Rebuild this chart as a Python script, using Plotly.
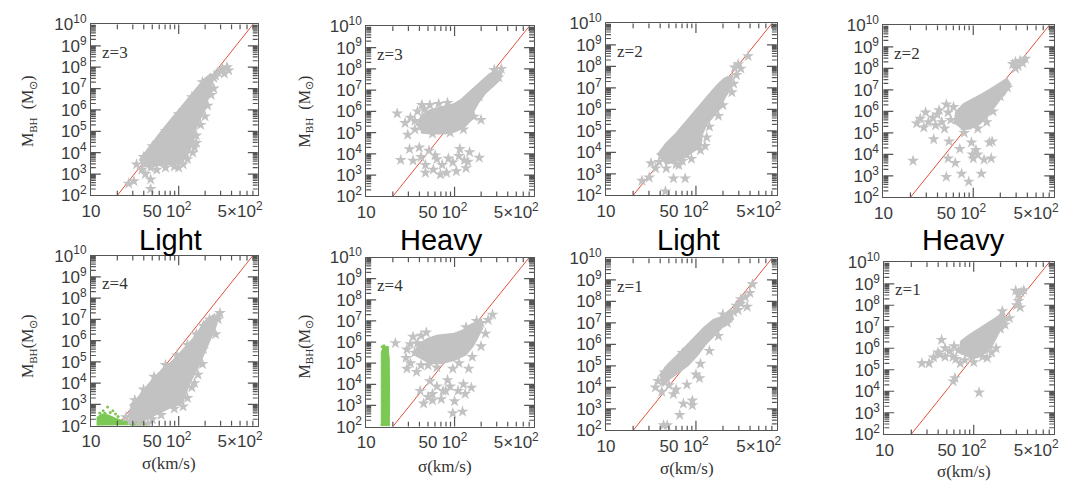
import numpy as np
import plotly.graph_objects as go

# ---------------- axes / ticks ----------------
SIGMA_RANGE_LOG = [1.0, 2.9]
MBH_RANGE_LOG = [2.0, 10.0]
x_tick_vals = [10, 50, 100, 500]
x_tick_text = ["10", "50", "10<sup>2</sup>", "5×10<sup>2</sup>"]
y_tick_vals = [10.0 ** k for k in range(2, 11)]
y_tick_text = ["10<sup>%d</sup>" % k for k in range(2, 11)]

# M-sigma relation (red line), read at the frame edges
relation_sigma = [20.0, 700.0]
relation_mbh = [1e2, 1e10]

panel_redshift = ["z=3", "z=3", "z=2", "z=2", "z=4", "z=4", "z=1", "z=1"]
column_seed = ["Light", "Heavy", "Light", "Heavy"]

# ---------------- data (log10 sigma, log10 M_BH) ----------------
p1_core = [(1.56,3.6),(1.63,4.0),(1.72,4.45),(1.80,4.9),(1.88,5.3),(1.95,5.65),(2.03,6.05),(2.10,6.4),
           (2.17,6.75),(2.24,7.1),(2.30,7.4),(2.36,7.6),(2.38,7.45),(2.36,7.1),(2.32,6.6),(2.28,6.0),
           (2.22,5.5),(2.17,5.0),(2.15,4.6),(2.12,4.2),(2.07,3.8),(2.0,3.55),(1.9,3.5),(1.78,3.45),(1.65,3.4),(1.58,3.4)]
p2_core = [(1.58,5.3),(1.64,5.8),(1.72,6.0),(1.8,6.1),(1.9,6.2),(2.0,6.3),(2.08,6.5),(2.16,6.8),(2.24,7.1),(2.32,7.4),
           (2.4,7.7),(2.48,7.85),(2.52,7.8),(2.50,7.5),(2.42,7.2),(2.34,6.9),(2.26,6.45),(2.2,6.0),(2.17,5.6),
           (2.1,5.3),(2.0,5.1),(1.88,5.0),(1.72,5.0),(1.62,5.05)]
p3_core = [(1.58,3.85),(1.68,4.4),(1.79,4.85),(1.90,5.4),(1.97,5.8),(2.08,6.3),(2.19,6.83),(2.27,7.2),(2.33,7.42),
           (2.39,7.5),(2.37,7.0),(2.30,6.5),(2.26,6.09),(2.18,5.7),(2.11,5.35),(2.06,4.9),(2.04,4.31),(1.95,4.05),
           (1.85,3.8),(1.75,3.6),(1.65,3.5)]
p4_core = [(1.80,5.4),(1.82,5.95),(1.9,6.3),(2.0,6.5),(2.1,6.75),(2.2,7.0),(2.3,7.25),(2.37,7.45),(2.40,7.25),
           (2.35,6.9),(2.28,6.55),(2.22,6.2),(2.14,5.75),(2.06,5.45),(1.96,5.25),(1.86,5.2)]
p5_core = [(1.45,2.9),(1.55,3.3),(1.64,3.78),(1.75,4.3),(1.85,4.7),(1.94,5.0),(2.05,5.5),(2.17,6.03),(2.25,6.5),
           (2.32,6.93),(2.40,7.15),(2.42,6.8),(2.38,6.4),(2.32,5.8),(2.25,5.2),(2.2,4.7),(2.12,4.1),(2.08,3.7),
           (2.03,3.1),(1.9,2.9),(1.75,2.6),(1.6,2.3),(1.5,2.25),(1.42,2.5)]
p6_core = [(1.55,5.35),(1.6,5.85),(1.7,6.1),(1.8,6.25),(1.9,6.3),(2.0,6.35),(2.1,6.5),(2.18,6.75),
           (2.27,6.95),(2.3,6.65),(2.25,6.25),(2.2,5.85),(2.12,5.45),(2.0,5.2),(1.85,5.05),(1.68,5.05)]
p7_core = [(1.60,4.5),(1.7,5.05),(1.8,5.45),(1.9,5.9),(2.0,6.35),(2.1,6.75),(2.2,7.1),(2.3,7.25),(2.38,7.55),
           (2.40,7.2),(2.3,6.9),(2.2,6.45),(2.1,6.05),(2.0,5.5),(1.9,5.05),(1.8,4.75),(1.7,4.45),(1.62,4.1)]
p8_core = [(1.85,5.75),(1.87,6.3),(1.95,6.55),(2.05,6.8),(2.15,7.05),(2.25,7.35),(2.32,7.55),(2.35,7.35),
           (2.3,7.0),(2.25,6.6),(2.2,6.2),(2.15,5.9),(2.05,5.65),(1.95,5.55)]

p1_stars = [(2.45,7.75),(2.5,7.9),(2.55,8.0),(2.57,7.85),(2.52,7.7),(2.48,7.85),(2.42,7.6),(2.4,7.5),
            (1.52,3.45),(1.58,3.2),(1.68,3.3),(1.75,3.2),(1.85,3.3),(1.95,3.35),(2.0,3.3),(2.05,3.45),
            (2.1,3.7),(2.16,4.0),(2.18,4.25),(2.2,4.45),(2.2,4.8),(2.25,5.3),(2.3,5.7),(2.33,6.2),(2.37,6.7),
            (2.4,7.0),(1.68,2.75),(1.68,2.3),(1.49,2.67),(1.43,2.55),(1.62,3.0),(2.14,4.5),(1.6,3.8),(1.7,4.3),
            (1.85,5.0),(2.0,5.8),(2.15,6.6),(2.27,7.3),(1.9,3.6),(2.08,3.95)]
p2_stars = [(1.35,5.9),(1.44,5.45),(1.47,4.9),(1.5,5.7),(1.55,5.55),(1.58,6.0),(1.62,5.3),(1.66,6.1),(1.7,5.2),
            (1.75,4.95),(1.63,6.3),(1.72,6.3),(1.82,6.35),(1.92,6.4),(1.55,5.15),(2.3,5.6),(2.22,5.75),
            (2.1,5.15),(1.95,5.0),(2.45,7.95),(2.53,8.0),(2.5,7.6),(2.4,7.35),(2.28,6.7),
            (1.49,4.22),(1.6,4.3),(1.71,4.15),(1.53,3.68),(1.67,3.48),(1.78,3.93),(1.86,3.48),(1.93,3.78),
            (2.06,4.23),(2.11,3.7),(2.17,4.08),(2.13,3.33),(2.02,3.18),(1.91,3.11),(1.84,3.03),(1.76,3.26),
            (1.67,3.11),(1.39,3.71),(2.28,3.82),(2.15,3.63),(1.98,3.6),(1.8,3.75),(1.62,3.85),(2.05,3.9)]
p3_stars = [(1.67,3.26),(1.81,3.41),(1.59,3.56),(1.55,3.26),(1.40,2.68),(1.48,2.83),(1.75,2.79),(1.88,2.79),
            (1.66,2.19),(1.62,3.86),(2.1,4.3),(2.05,4.1),(1.95,3.7),(2.15,5.2),(2.25,5.7),(2.3,6.2),(2.4,6.8),
            (2.45,7.6),(2.5,7.9),(2.47,8.1),(2.58,8.48),(2.42,7.2),(2.12,4.7),(1.9,3.9),(1.72,3.7),(1.85,3.6),
            (2.0,4.5),(1.78,3.45),(2.35,7.3),(2.43,7.95),(1.5,3.5)]
p4_stars = [(2.44,8.2),(2.47,8.3),(2.5,8.1),(2.52,8.35),(2.55,8.25),(2.47,8.0),(2.58,8.45),
            (1.37,5.44),(1.41,5.66),(1.47,5.95),(1.5,5.5),(1.55,5.7),(1.6,5.85),(1.65,5.5),(1.70,6.32),
            (1.72,5.95),(1.58,5.35),(1.68,5.2),(1.75,5.6),(1.45,5.25),(1.62,6.05),(1.78,6.2),(2.15,5.5),
            (2.22,6.0),(2.3,6.7),(2.38,7.1),(1.9,5.0),(2.05,5.2),
            (1.56,4.70),(1.72,3.81),(1.85,4.25),(1.98,4.55),(2.18,4.55),(1.99,3.99),(2.05,3.99),(1.87,3.10),
            (1.95,2.73),(2.09,3.1),(1.70,2.95),(1.33,3.7),(2.2,3.81),(2.0,3.81),(2.03,4.2),(1.73,4.6),(2.21,4.6),
            (1.8,3.6),(2.12,3.75)]
p5_stars = [(2.47,7.3),(2.45,7.0),(2.42,6.3),(2.35,6.5),(2.28,5.6),(2.22,4.4),(2.15,3.8),(2.1,3.3),(2.05,2.9),
            (1.95,2.8),(1.8,2.5),(1.7,2.3),(1.65,2.1),(1.55,2.05),(1.45,2.2),(1.4,2.4),(2.35,7.0),(2.28,6.7),
            (2.2,6.3),(2.1,5.8),(1.98,5.3),(1.85,4.85),(1.72,4.3),(1.6,3.7),(1.5,3.2),(2.27,4.9),(2.18,4.0),
            (2.44,7.1)]
p6_stars = [(1.33,5.95),(1.46,5.65),(1.53,6.25),(1.5,5.9),(1.55,5.5),(1.58,5.95),(1.62,6.3),(1.68,6.45),
            (1.45,5.25),(1.57,4.59),(1.46,4.74),(1.5,5.0),(1.62,4.9),(1.7,4.9),(1.8,4.8),(1.98,4.74),(2.16,4.74),
            (2.05,5.0),(2.2,5.3),(2.3,5.8),(2.35,6.4),(2.43,7.3),(2.38,7.05),(2.3,6.9),(2.25,7.0),(2.13,6.7),
            (1.61,3.69),(1.75,3.54),(1.90,3.69),(2.04,3.69),(2.19,3.84),(1.65,3.09),(1.75,3.24),(1.98,2.63),
            (2.09,2.71),(1.87,3.69),(1.8,3.9),(1.95,3.9),(2.1,4.0),(1.7,3.4),(1.85,3.3),(2.12,3.55),(1.72,4.15),
            (1.92,4.2),(2.0,3.2)]
p7_stars = [(2.45,7.8),(2.5,8.1),(2.55,8.2),(2.6,8.4),(2.63,8.8),(2.5,7.9),(2.57,7.75),(2.47,7.6),(2.42,7.5),
            (1.75,3.69),(1.86,3.24),(1.96,3.39),(1.82,2.72),(1.96,3.17),(1.64,2.24),(1.68,2.24),(1.9,4.13),
            (2.04,4.43),(2.0,4.6),(1.62,3.8),(1.55,4.0),(1.7,4.1),(1.78,3.9),(2.05,5.1),(2.15,5.7),(2.25,6.4),
            (2.3,7.4),(2.35,7.0),(1.58,4.3),(1.65,4.7),(1.85,5.6),(2.0,6.1)]
p8_stars = [(1.42,5.30),(1.55,5.57),(1.64,6.39),(1.62,5.7),(1.73,5.85),(1.77,5.6),(1.79,4.61),(1.77,4.46),
            (1.68,5.6),(1.83,5.9),(1.78,6.1),(1.8,5.5),(1.85,5.3),(1.9,5.45),(2.0,5.35),(2.06,3.94),(2.1,5.6),
            (2.2,5.8),(2.25,6.0),(2.3,6.9),(2.32,7.72),(2.47,8.68),(2.5,8.5),(2.53,8.6),(2.56,8.7),(2.48,8.0),
            (2.52,7.9),(2.5,8.2),(2.4,7.4),(1.6,5.8),(1.68,6.0),(1.5,5.3),(2.15,5.55),(2.35,7.1)]

p5_green_core = [(1.07,2.0),(1.07,2.4),(1.12,2.55),(1.2,2.5),(1.28,2.35),(1.35,2.25),(1.45,2.18),(1.62,2.12),
                 (1.64,2.03),(1.45,2.02)]
p5_green_pts = [(1.1,2.6),(1.16,2.58),(1.19,2.88),(1.25,2.7),(1.22,2.62),(1.31,2.43),(1.14,2.7),(1.28,2.55),
                (1.5,2.2),(1.58,2.15)]
p6_green_core = [(1.17,2.02),(1.17,5.5),(1.19,5.75),(1.22,5.8),(1.25,5.7),(1.26,5.2),(1.265,3.0),(1.26,2.02)]
p6_green_pts = [(1.18,5.78),(1.2,5.82),(1.24,5.75),(1.18,2.1),(1.25,2.1)]

panel_cores = [p1_core, p2_core, p3_core, p4_core, p5_core, p6_core, p7_core, p8_core]
panel_stars = [p1_stars, p2_stars, p3_stars, p4_stars, p5_stars, p6_stars, p7_stars, p8_stars]
panel_green = {5: (p5_green_core, p5_green_pts), 6: (p6_green_core, p6_green_pts)}

# ---------------- layout geometry (pixel frames) ----------------
W, H = 1069, 492
frames = [(83, 252, 13, 192), (362, 532, 15, 193), (605, 778, 12, 192), (886, 1059, 14, 194),
          (83, 252, 255, 433), (362, 532, 257, 434), (605, 778, 258, 438), (887, 1059, 262, 442)]
xtitle_y = [None, None, None, None, 473, 476, 478, 481]
MAJ_LEN, MIN_LEN = 10, 5

GRAY = "#c2c2c2"
GREEN = "#7cc855"
RED = "#e0503a"
AXC = "#555555"
TICKFONT = dict(family="Liberation Sans", size=17, color="#3a3a3a")
SERIF = "Liberation Serif"


def unz(pts):
    a = np.array(pts, dtype=float)
    return 10 ** a[:, 0], 10 ** a[:, 1]


def tick_path(l, r, t, b):
    """Inside tick marks on all four frame sides, placed at the log-axis tick values."""
    x0d, x1d = l / W, r / W
    y0d, y1d = 1 - b / H, 1 - t / H
    xspan = SIGMA_RANGE_LOG[1] - SIGMA_RANGE_LOG[0]
    yspan = MBH_RANGE_LOG[1] - MBH_RANGE_LOG[0]
    parts = []
    ylog = [(float(k), MAJ_LEN) for k in range(3, 10)]
    ylog += [(d + np.log10(m), MIN_LEN) for d in range(2, 10) for m in range(2, 10)]
    for v, ln in ylog:
        yp = y0d + (v - MBH_RANGE_LOG[0]) / yspan * (y1d - y0d)
        dx = ln / W
        parts.append("M%.5f,%.5f L%.5f,%.5f" % (x0d, yp, x0d + dx, yp))
        parts.append("M%.5f,%.5f L%.5f,%.5f" % (x1d - dx, yp, x1d, yp))
    xlog = [(2.0, MAJ_LEN)]
    xlog += [(d + np.log10(m), MIN_LEN) for d in (1, 2) for m in range(2, 10)
             if d + np.log10(m) < SIGMA_RANGE_LOG[1]]
    for v, ln in xlog:
        xp = x0d + (v - SIGMA_RANGE_LOG[0]) / xspan * (x1d - x0d)
        dy = ln / H
        parts.append("M%.5f,%.5f L%.5f,%.5f" % (xp, y0d, xp, y0d + dy))
        parts.append("M%.5f,%.5f L%.5f,%.5f" % (xp, y1d - dy, xp, y1d))
    return " ".join(parts)


fig = go.Figure()
shapes = []

for i in range(8):
    n = i + 1
    xa = "x" if n == 1 else "x%d" % n
    ya = "y" if n == 1 else "y%d" % n
    l, r, t, b = frames[i]
    fig.add_trace(go.Scatter(x=relation_sigma, y=relation_mbh, mode="lines",
                             line=dict(color=RED, width=1), xaxis=xa, yaxis=ya, showlegend=False))
    if n in panel_green:
        gc, gp = panel_green[n]
        gx, gy = unz(gc)
        fig.add_trace(go.Scatter(x=gx, y=gy, mode="lines", fill="toself", fillcolor=GREEN,
                                 line=dict(color=GREEN, width=1), xaxis=xa, yaxis=ya, showlegend=False))
        px_, py_ = unz(gp)
        fig.add_trace(go.Scatter(x=px_, y=py_, mode="markers", marker=dict(color=GREEN, size=3),
                                 xaxis=xa, yaxis=ya, showlegend=False))
    cx, cy = unz(panel_cores[i])
    fig.add_trace(go.Scatter(x=cx, y=cy, mode="lines", fill="toself", fillcolor=GRAY,
                             line=dict(color=GRAY, width=4), xaxis=xa, yaxis=ya, showlegend=False))
    sx, sy = unz(panel_stars[i])
    fig.add_trace(go.Scatter(x=sx, y=sy, mode="markers",
                             marker=dict(symbol="star", size=9, color=GRAY, line=dict(width=0)),
                             xaxis=xa, yaxis=ya, showlegend=False))

    shapes.append(dict(type="path", path=tick_path(l, r, t, b), xref="paper", yref="paper",
                       line=dict(color=AXC, width=1.2), layer="above"))

    xkey = "xaxis" if n == 1 else "xaxis%d" % n
    ykey = "yaxis" if n == 1 else "yaxis%d" % n
    fig.layout[xkey] = dict(
        type="log", range=SIGMA_RANGE_LOG, domain=[l / W, r / W], anchor=ya,
        tickmode="array", tickvals=x_tick_vals, ticktext=x_tick_text, tickfont=TICKFONT,
        ticks="", showline=True, linecolor=AXC, linewidth=1, mirror=True,
        showgrid=False, zeroline=False)
    fig.layout[ykey] = dict(
        type="log", range=MBH_RANGE_LOG, domain=[1 - b / H, 1 - t / H], anchor=xa,
        tickmode="array", tickvals=y_tick_vals, ticktext=y_tick_text, tickfont=TICKFONT,
        ticks="", showline=True, linecolor=AXC, linewidth=1, mirror=True,
        showgrid=False, zeroline=False)

    fig.add_annotation(text=panel_redshift[i], xref="paper", yref="paper",
                       x=(l + 9) / W, y=1 - (t + 29) / H, xanchor="left", yanchor="middle",
                       showarrow=False, font=dict(family=SERIF, size=17, color="#333333"))
    if xtitle_y[i] is not None:
        fig.add_annotation(text="σ(km/s)", xref="paper", yref="paper", x=((l + r) / 2 - 5) / W,
                           y=1 - xtitle_y[i] / H, showarrow=False, xanchor="center", yanchor="middle",
                           font=dict(family=SERIF, size=17, color="#333333"))

for (px, py, txt) in [(20, 104, "M<sub>BH</sub>  (M<sub>⊙</sub>)"), (300, 104, "M<sub>BH</sub>  (M<sub>⊙</sub>)"),
                      (20, 350, "M<sub>BH</sub>(M<sub>⊙</sub>)"), (300, 350, "M<sub>BH</sub>(M<sub>⊙</sub>)")]:
    fig.add_annotation(text=txt, xref="paper", yref="paper", x=px / W, y=1 - py / H, textangle=-90,
                       showarrow=False, xanchor="center", yanchor="middle",
                       font=dict(family=SERIF, size=16, color="#333333"))

for px, txt in zip([164, 438, 689, 967], column_seed):
    fig.add_annotation(text=txt, xref="paper", yref="paper", x=px / W, y=1 - 239 / H,
                       showarrow=False, xanchor="center", yanchor="middle",
                       font=dict(family="Liberation Sans", size=29, color="#000000"))

fig.update_layout(width=W, height=H, margin=dict(l=0, r=0, t=0, b=0), shapes=shapes,
                  paper_bgcolor="white", plot_bgcolor="white", showlegend=False)
fig.write_html("out.html")
